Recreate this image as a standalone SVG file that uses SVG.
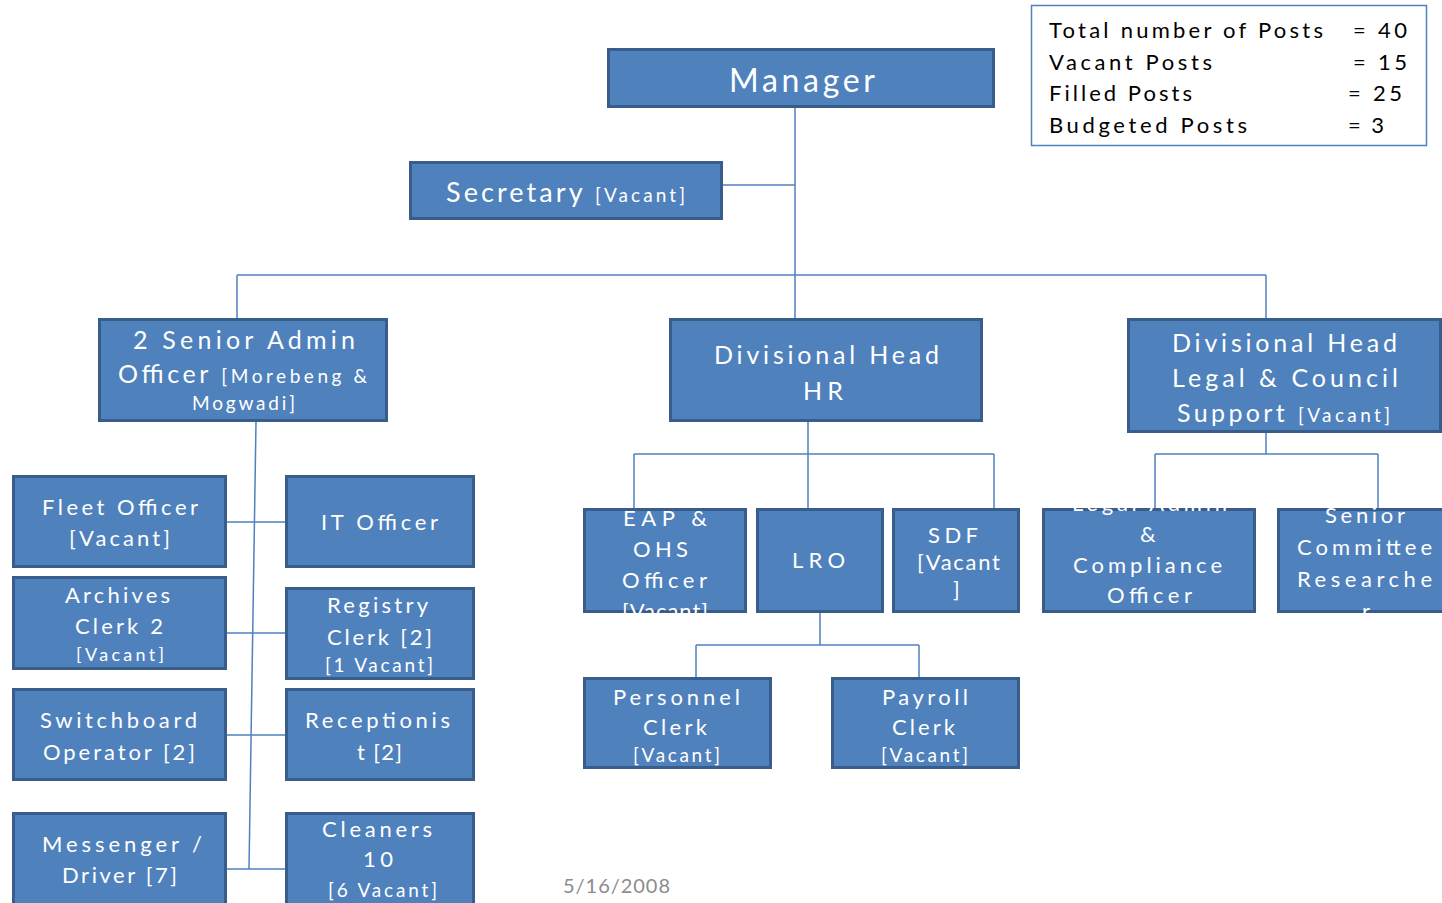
<svg xmlns="http://www.w3.org/2000/svg" width="1442" height="903" viewBox="0 0 1442 903">
  <style>
    .box { fill: #4F81BD; stroke: #385D8A; stroke-width: 3; }
    .conn { fill: none; stroke: #4F81BD; stroke-width: 1.5; }
    .t { font-family: Lato, "Liberation Sans", sans-serif; fill: #FFFFFF; font-size: 22px; }
    .z31 { font-size: 32px; }
    .z26 { font-size: 27px; }
    .z24 { font-size: 25px; }
    .z19 { font-size: 19px; }
    .z18 { font-size: 18px; }
    .stat { font-family: Lato, "Liberation Sans", sans-serif; fill: #000000; font-size: 22px; }
    .date { font-family: Lato, "Liberation Sans", sans-serif; fill: #8C8C8C; font-size: 20px; }
  </style>
  <defs>
    <clipPath id="clip-eap"><rect x="583" y="508" width="164" height="105"/></clipPath>
    <clipPath id="clip-legaladmin"><rect x="1042" y="508" width="214" height="105"/></clipPath>
    <clipPath id="clip-committee"><rect x="1277" y="508" width="170" height="105"/></clipPath>
  </defs>

  <rect width="1442" height="903" fill="#FFFFFF"/>

  <!-- connectors -->
  <g id="connectors" class="conn">
    <path d="M795 108 V318"/>
    <path d="M723 185 H795"/>
    <path d="M237 275 H1266 M237 275 V318 M1266 275 V318"/>
    <path d="M256 422 L249 869"/>
    <path d="M227 522 H285 M227 633 H285 M227 735 H285 M227 869 H285"/>
    <path d="M808 422 V508 M634 454 H994 M634 454 V508 M994 454 V508"/>
    <path d="M820 613 V645 M696 645 H919 M696 645 V677 M919 645 V677"/>
    <path d="M1266 433 V454 M1155 454 H1378 M1155 454 V508 M1378 454 V508"/>
  </g>

  <!-- post summary -->
  <g id="summary">
    <rect x="1031.5" y="5.5" width="395" height="140" fill="#FFFFFF" stroke="#4F81BD" stroke-width="1.5"/>
    <text class="stat" x="1049" y="38" textLength="274" lengthAdjust="spacing">Total number of Posts</text>
    <text class="stat" x="1353" y="38" textLength="54" lengthAdjust="spacing">= 40</text>
    <text class="stat" x="1049" y="70" textLength="163" lengthAdjust="spacing">Vacant Posts</text>
    <text class="stat" x="1353" y="70" textLength="54" lengthAdjust="spacing">= 15</text>
    <text class="stat" x="1049" y="101" textLength="143" lengthAdjust="spacing">Filled Posts</text>
    <text class="stat" x="1348" y="101" textLength="54" lengthAdjust="spacing">= 25</text>
    <text class="stat" x="1049" y="133" textLength="198" lengthAdjust="spacing">Budgeted Posts</text>
    <text class="stat" x="1348" y="133" textLength="36" lengthAdjust="spacing">= 3</text>
  </g>

  <g id="manager">
    <rect class="box" x="608.5" y="49.5" width="385" height="57"/>
    <text class="t z31" x="729" y="92" textLength="146" lengthAdjust="spacing">Manager</text>
  </g>

  <g id="secretary">
    <rect class="box" x="410.5" y="162.5" width="311" height="56"/>
    <text class="t z26" x="446" y="202" textLength="239" lengthAdjust="spacing">Secretary <tspan class="z19">[Vacant]</tspan></text>
  </g>

  <g id="senior-admin">
    <rect class="box" x="99.5" y="319.5" width="287" height="101"/>
    <text class="t z24" x="133" y="349" textLength="222" lengthAdjust="spacing">2 Senior Admin</text>
    <text class="t z24" x="118" y="383" textLength="249" lengthAdjust="spacing">Officer <tspan class="z19">[Morebeng &amp;</tspan></text>
    <text class="t z19" x="192" y="410" textLength="103" lengthAdjust="spacing">Mogwadi]</text>
  </g>

  <g id="head-hr">
    <rect class="box" x="670.5" y="319.5" width="311" height="101"/>
    <text class="t z24" x="714" y="364" textLength="225" lengthAdjust="spacing">Divisional Head</text>
    <text class="t z24" x="803" y="400" textLength="40" lengthAdjust="spacing">HR</text>
  </g>

  <g id="head-legal">
    <rect class="box" x="1128.5" y="319.5" width="312" height="112"/>
    <text class="t z24" x="1172" y="352" textLength="225" lengthAdjust="spacing">Divisional Head</text>
    <text class="t z24" x="1172" y="387" textLength="226" lengthAdjust="spacing">Legal &amp; Council</text>
    <text class="t z24" x="1177" y="422" textLength="213" lengthAdjust="spacing">Support <tspan class="z19">[Vacant]</tspan></text>
  </g>

  <g id="fleet-officer">
    <rect class="box" x="13.5" y="476.5" width="212" height="90"/>
    <text class="t" x="42" y="515" textLength="156" lengthAdjust="spacing">Fleet Officer</text>
    <text class="t" x="69" y="546" textLength="101" lengthAdjust="spacing">[Vacant]</text>
  </g>

  <g id="it-officer">
    <rect class="box" x="286.5" y="476.5" width="187" height="90"/>
    <text class="t" x="321" y="530" textLength="117" lengthAdjust="spacing">IT Officer</text>
  </g>

  <g id="archives-clerk">
    <rect class="box" x="13.5" y="577.5" width="212" height="91"/>
    <text class="t" x="65" y="603" textLength="105" lengthAdjust="spacing">Archives</text>
    <text class="t" x="75" y="634" textLength="88" lengthAdjust="spacing">Clerk 2</text>
    <text class="t z18" x="76" y="661" textLength="88" lengthAdjust="spacing">[Vacant]</text>
  </g>

  <g id="registry-clerk">
    <rect class="box" x="286.5" y="588.5" width="187" height="90"/>
    <text class="t" x="327" y="613" textLength="101" lengthAdjust="spacing">Registry</text>
    <text class="t" x="327" y="645" textLength="105" lengthAdjust="spacing">Clerk [2]</text>
    <text class="t z19" x="325" y="672" textLength="108" lengthAdjust="spacing">[1 Vacant]</text>
  </g>

  <g id="switchboard">
    <rect class="box" x="13.5" y="689.5" width="212" height="90"/>
    <text class="t" x="40" y="728" textLength="157" lengthAdjust="spacing">Switchboard</text>
    <text class="t" x="43" y="760" textLength="152" lengthAdjust="spacing">Operator [2]</text>
  </g>

  <g id="receptionist">
    <rect class="box" x="286.5" y="689.5" width="187" height="90"/>
    <text class="t" x="305" y="728" textLength="145" lengthAdjust="spacing">Receptionis</text>
    <text class="t" x="357" y="760" textLength="45" lengthAdjust="spacing">t [2]</text>
  </g>

  <g id="messenger">
    <rect class="box" x="13.5" y="813.5" width="212" height="95"/>
    <text class="t" x="42" y="852" textLength="160" lengthAdjust="spacing">Messenger /</text>
    <text class="t" x="62" y="883" textLength="115" lengthAdjust="spacing">Driver [7]</text>
  </g>

  <g id="cleaners">
    <rect class="box" x="286.5" y="813.5" width="187" height="95"/>
    <text class="t" x="322" y="837" textLength="110" lengthAdjust="spacing">Cleaners</text>
    <text class="t" x="363" y="867" textLength="30" lengthAdjust="spacing">10</text>
    <text class="t z19" x="328" y="897" textLength="109" lengthAdjust="spacing">[6 Vacant]</text>
  </g>

  <g id="eap-ohs">
    <rect class="box" x="584.5" y="509.5" width="161" height="102"/>
    <g clip-path="url(#clip-eap)">
      <text class="t" x="623" y="526" textLength="84" lengthAdjust="spacing">EAP &amp;</text>
      <text class="t" x="633" y="557" textLength="55" lengthAdjust="spacing">OHS</text>
      <text class="t" x="622" y="588" textLength="85" lengthAdjust="spacing">Officer</text>
      <text class="t" x="622" y="619" textLength="86" lengthAdjust="spacing">[Vacant]</text>
    </g>
  </g>

  <g id="lro">
    <rect class="box" x="757.5" y="509.5" width="125" height="102"/>
    <text class="t" x="792" y="568" textLength="53" lengthAdjust="spacing">LRO</text>
  </g>

  <g id="sdf">
    <rect class="box" x="893.5" y="509.5" width="125" height="102"/>
    <text class="t" x="928" y="543" textLength="50" lengthAdjust="spacing">SDF</text>
    <text class="t" x="917" y="570" textLength="83" lengthAdjust="spacing">[Vacant</text>
    <text class="t" x="953" y="597">]</text>
  </g>

  <g id="legal-admin">
    <rect class="box" x="1043.5" y="509.5" width="211" height="102"/>
    <g clip-path="url(#clip-legaladmin)">
      <text class="t" x="1072" y="511" textLength="155" lengthAdjust="spacing">Legal Admin</text>
      <text class="t" x="1140" y="542">&amp;</text>
      <text class="t" x="1073" y="573" textLength="149" lengthAdjust="spacing">Compliance</text>
      <text class="t" x="1107" y="603" textLength="85" lengthAdjust="spacing">Officer</text>
    </g>
  </g>

  <g id="committee-researcher">
    <rect class="box" x="1278.5" y="509.5" width="170" height="102"/>
    <g clip-path="url(#clip-committee)">
      <text class="t" x="1325" y="523" textLength="80" lengthAdjust="spacing">Senior</text>
      <text class="t" x="1297" y="555" textLength="135" lengthAdjust="spacing">Committee</text>
      <text class="t" x="1297" y="587" textLength="135" lengthAdjust="spacing">Researche</text>
      <text class="t" x="1362" y="619">r</text>
    </g>
  </g>

  <g id="personnel-clerk">
    <rect class="box" x="584.5" y="678.5" width="186" height="89"/>
    <text class="t" x="613" y="705" textLength="127" lengthAdjust="spacing">Personnel</text>
    <text class="t" x="643" y="735" textLength="64" lengthAdjust="spacing">Clerk</text>
    <text class="t z19" x="633" y="762" textLength="87" lengthAdjust="spacing">[Vacant]</text>
  </g>

  <g id="payroll-clerk">
    <rect class="box" x="832.5" y="678.5" width="186" height="89"/>
    <text class="t" x="882" y="705" textLength="86" lengthAdjust="spacing">Payroll</text>
    <text class="t" x="892" y="735" textLength="63" lengthAdjust="spacing">Clerk</text>
    <text class="t z19" x="881" y="762" textLength="87" lengthAdjust="spacing">[Vacant]</text>
  </g>

  <text class="date" x="563" y="893" textLength="107" lengthAdjust="spacing">5/16/2008</text>
</svg>
